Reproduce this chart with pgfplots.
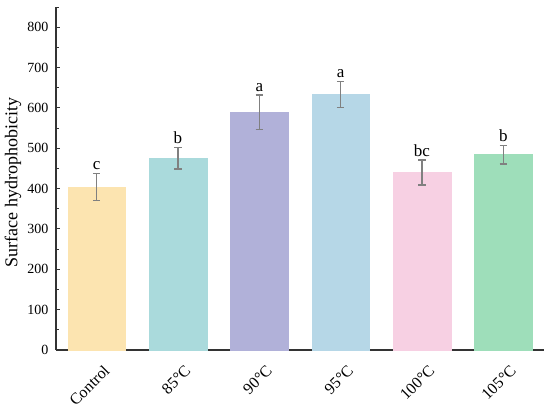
\documentclass[border=0pt]{standalone}
\usepackage{pgfplots}
\pgfplotsset{compat=1.18}
\usepackage{fontspec}
\setmainfont{Liberation Serif}
\definecolor{c1}{HTML}{FCE4B0}
\definecolor{c2}{HTML}{AADADC}
\definecolor{c3}{HTML}{B1B1D9}
\definecolor{c4}{HTML}{B6D7E7}
\definecolor{c5}{HTML}{F7D0E3}
\definecolor{c6}{HTML}{9EDEBA}
\definecolor{axc}{HTML}{333333}
\definecolor{errc}{HTML}{808080}
\begin{document}
\begin{tikzpicture}
\useasboundingbox (-56pt,-64pt) rectangle (494pt,350pt);
\begin{axis}[
  scale only axis, width=488pt, height=343pt,
  xmin=-0.5, xmax=5.5, ymin=0, ymax=850,
  axis lines*=left,
  axis line style={line width=1.2pt, color=axc},
  xtick={0,1,2,3,4,5},
  xticklabels={Control,85°C,90°C,95°C,100°C,105°C},
  ytick={0,100,...,800},
  minor ytick={50,150,...,850},
  tick align=inside,
  major tick length=4.5pt, minor tick length=3pt,
  tick style={line width=1pt, color=axc},
  xtick style={draw=none},
  /pgf/number format/assume math mode=true,
  yticklabel style={font=\fontsize{14}{14}\selectfont, inner sep=0pt, xshift=-7.5pt},
  xticklabel style={xshift=6pt, yshift=-14pt, rotate=45, anchor=north east, inner sep=0pt, font=\fontsize{16}{16}\selectfont},
  ylabel={Surface hydrophobicity},
  ylabel style={at={(axis description cs:-0.088,0.488)}, anchor=center, font=\fontsize{18}{18}\selectfont},
  barstyle/.style={ybar, bar width=57.5pt, bar shift=0pt, line width=0.4pt},
  clip=false,
]
\addplot[barstyle, fill=c1, draw=c1] coordinates {(0,404)};
\addplot[barstyle, fill=c2, draw=c2] coordinates {(1,475)};
\addplot[barstyle, fill=c3, draw=c3] coordinates {(2,589)};
\addplot[barstyle, fill=c4, draw=c4] coordinates {(3,633)};
\addplot[barstyle, fill=c5, draw=c5] coordinates {(4,440)};
\addplot[barstyle, fill=c6, draw=c6] coordinates {(5,484)};
% error bars (mean -/+ SD), with caps
\addplot[errc, line width=1.5pt, mark=none, unbounded coords=jump] coordinates {
  (0,370) (0,438) (0,nan) (-0.047,370) (0.047,370) (0,nan) (-0.047,438) (0.047,438) (0,nan)
  (1,448) (1,502) (0,nan) (0.953,448) (1.047,448) (0,nan) (0.953,502) (1.047,502) (0,nan)
  (2,546) (2,632) (0,nan) (1.953,546) (2.047,546) (0,nan) (1.953,632) (2.047,632) (0,nan)
  (3,601) (3,665) (0,nan) (2.953,601) (3.047,601) (0,nan) (2.953,665) (3.047,665) (0,nan)
  (4,409) (4,471) (0,nan) (3.953,409) (4.047,409) (0,nan) (3.953,471) (4.047,471) (0,nan)
  (5,461) (5,507) (0,nan) (4.953,461) (5.047,461) (0,nan) (4.953,507) (5.047,507)
};
\addplot[draw=none, mark=none, nodes near coords, point meta=explicit symbolic,
  nodes near coords style={anchor=south, inner sep=0pt, yshift=3.5pt, font=\fontsize{17}{17}\selectfont, text=black}]
  table[meta=lab] {
x y lab
0 438 c
1 502 b
2 632 a
3 665 a
4 471 bc
5 507 b
};
\end{axis}
\end{tikzpicture}
\end{document}
